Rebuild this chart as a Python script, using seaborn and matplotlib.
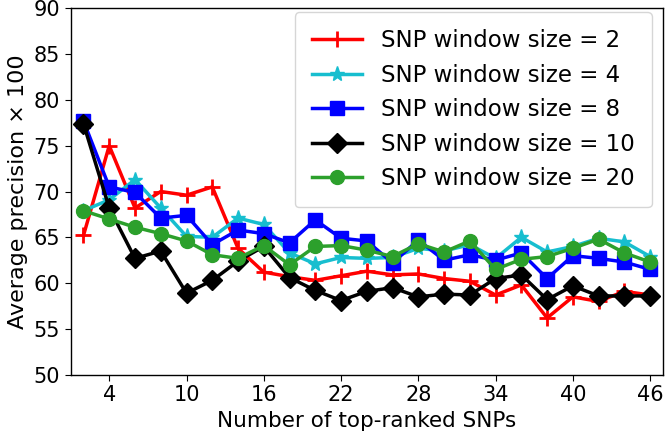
import matplotlib
matplotlib.use("Agg")
import matplotlib.pyplot as plt
import seaborn as sns
import pandas as pd

x_vals = list(range(2, 47, 2))
w2 = [65.2, 75.0, 68.2, 70.0, 69.6, 70.5, 63.8, 61.2, 60.7, 60.3, 60.8, 61.3,
      60.9, 61.0, 60.5, 60.2, 58.7, 59.8, 56.2, 58.5, 58.0, 59.1, 58.7]
w4 = [67.9, 69.1, 71.3, 68.2, 65.1, 65.0, 67.1, 66.4, 63.3, 62.1, 62.8, 62.7,
      62.8, 63.8, 63.5, 64.2, 62.7, 65.0, 63.4, 64.0, 64.9, 64.5, 62.9]
w8 = [77.7, 70.5, 69.9, 67.1, 67.4, 64.2, 65.8, 65.4, 64.4, 66.9, 64.9, 64.6,
      62.2, 64.7, 62.5, 63.1, 62.5, 63.3, 60.5, 63.0, 62.7, 62.3, 61.5]
w10 = [77.4, 68.2, 62.7, 63.5, 58.9, 60.3, 62.4, 64.0, 60.6, 59.2, 58.1, 59.1,
       59.5, 58.5, 58.8, 58.7, 60.5, 60.9, 58.2, 59.7, 58.6, 58.6, 58.6]
w20 = [67.9, 67.0, 66.1, 65.4, 64.6, 63.1, 62.7, 64.1, 62.0, 64.0, 64.1, 63.6,
       62.9, 64.3, 63.4, 64.6, 61.5, 62.6, 62.9, 63.8, 64.8, 63.3, 62.3]

labels = ["SNP window size = 2", "SNP window size = 4", "SNP window size = 8",
          "SNP window size = 10", "SNP window size = 20"]
x_ticks = [4, 10, 16, 22, 28, 34, 40, 46]
y_ticks = [50, 55, 60, 65, 70, 75, 80, 85, 90]

series = [w2, w4, w8, w10, w20]
colors = ["#ff0000", "#17becf", "#0000ff", "#000000", "#2ca02c"]
markers = ["+", "*", "s", "D", "o"]
msizes = [12, 11, 10, 10, 10]

plt.rcParams["font.family"] = ["DejaVu Sans"]
fig = plt.figure(figsize=(6.66, 4.38), dpi=100)
ax = fig.add_axes([0.106, 0.1445, 0.8895, 0.8365])

for vals, lab, c, m, ms in zip(series, labels, colors, markers, msizes):
    df = pd.DataFrame({"x": x_vals, "y": vals})
    sns.lineplot(data=df, x="x", y="y", ax=ax, color=c, marker=m,
                 markersize=ms, linewidth=2.5, label=lab,
                 markeredgewidth=2 if m == "+" else 1, markeredgecolor=c)

ax.set_xlim(1, 47)
ax.set_ylim(50, 90)
ax.set_xticks(x_ticks)
ax.set_yticks(y_ticks)
ax.tick_params(labelsize=15, length=4)
ax.set_xlabel("Number of top-ranked SNPs", fontsize=15.5)
ax.set_ylabel("Average precision \u00d7 100", fontsize=16)
for s in ax.spines.values():
    s.set_visible(True)
    s.set_linewidth(1)
leg = ax.legend(loc="upper right", fontsize=16.5, handlelength=2.2,
                borderpad=0.75, bbox_to_anchor=(0.981, 0.99), borderaxespad=0)
fig.savefig("out.png", dpi=100)
